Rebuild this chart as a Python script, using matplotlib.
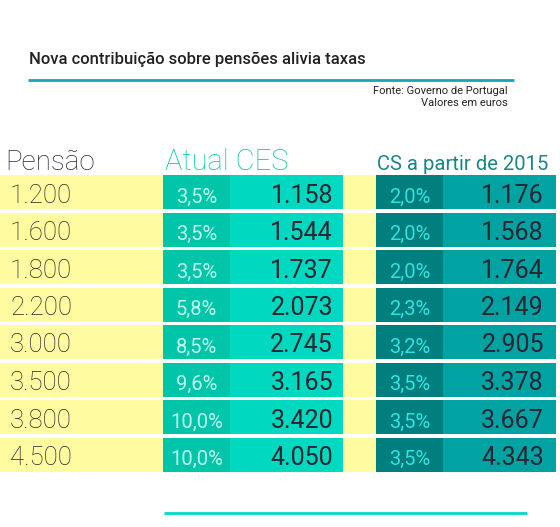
import matplotlib
matplotlib.use("Agg")
import matplotlib.pyplot as plt

# ---- data ----
pensao = [1200, 1600, 1800, 2200, 3000, 3500, 3800, 4500]
ces_rate = [3.5, 3.5, 3.5, 5.8, 8.5, 9.6, 10.0, 10.0]
ces_net = [1158, 1544, 1737, 2073, 2745, 3165, 3420, 4050]
cs_rate = [2.0, 2.0, 2.0, 2.3, 3.2, 3.5, 3.5, 3.5]
cs_net = [1176, 1568, 1764, 2149, 2905, 3378, 3667, 4343]

title = "Nova contribuição sobre pensões alivia taxas"
source_lines = ["Fonte: Governo de Portugal", "Valores em euros"]
headers = ["Pensão", "Atual CES", "CS a partir de 2015"]

def fnum(v):
    return f"{v:,}".replace(",", ".")

def fpct(r):
    return f"{r:.1f}%".replace(".", ",")

W, H = 560, 527
plt.rcParams['font.family'] = ['Roboto', 'DejaVu Sans']
fig = plt.figure(figsize=(W / 100, H / 100), dpi=100)

# background axes in pixel coords
bg = fig.add_axes([0, 0, 1, 1])
bg.set_xlim(0, W)
bg.set_ylim(H, 0)
bg.axis('off')

bg.text(29, 64, title, fontsize=12, fontweight='medium', color='#222222', va='baseline', ha='left')
bg.plot([28, 514], [80, 80], color='#1aa5b0', lw=2, solid_capstyle='butt')
bg.text(508, 94, source_lines[0], fontsize=8.0, color='#222222', ha='right', va='baseline')
bg.text(508, 106.5, source_lines[1], fontsize=8.0, color='#222222', ha='right', va='baseline')
bg.text(5, 170.5, headers[0], fontsize=20, fontweight='light', color='#2e2a33', va='baseline')
bg.text(165, 170.5, headers[1], fontsize=21, fontweight='light', color='#00c4aa', va='baseline')
bg.text(377, 170.5, headers[2], fontsize=14.6, color='#1b8585', va='baseline')
bg.plot([164, 527], [513, 513], color='#00d8c8', lw=2, solid_capstyle='butt')

# table axes: rows in index units
n = len(pensao)
pitch = 37.5
top = 175 - 1.75
ax = fig.add_axes([0, (H - (top + n * pitch)) / H, 1, n * pitch / H])
ax.set_xlim(0, W)
ax.set_ylim(n - 0.5, -0.5)
ax.axis('off')

rows = list(range(n))
h = 34 / pitch
ax.barh(rows, [376] * n, left=0, height=h, color='#fffba1', lw=0)
ax.barh(rows, [230 - 163] * n, left=163, height=h, color='#00c5a9', lw=0)
ax.barh(rows, [343 - 230] * n, left=230, height=h, color='#00d8bf', lw=0)
ax.barh(rows, [443 - 376] * n, left=376, height=h, color='#007f7e', lw=0)
ax.barh(rows, [556 - 443] * n, left=443, height=h, color='#00a2a2', lw=0)

dy = 0.28
for i in rows:
    ax.text(10, i + dy, fnum(pensao[i]), fontsize=18.5, fontweight='light', color='#2a2630',
            ha='left', va='baseline')
    ax.text(196.5, i + dy, fpct(ces_rate[i]), fontsize=14.5, color='#bff8ee',
            ha='center', va='baseline')
    ax.text(333, i + dy, fnum(ces_net[i]), fontsize=18, color='#2b2633',
            ha='right', va='baseline')
    ax.text(409.5, i + dy, fpct(cs_rate[i]), fontsize=14.5, color='#30e2e2',
            ha='center', va='baseline')
    ax.text(544, i + dy, fnum(cs_net[i]), fontsize=18, color='#2b2633',
            ha='right', va='baseline')

fig.savefig("out.png", dpi=100)
